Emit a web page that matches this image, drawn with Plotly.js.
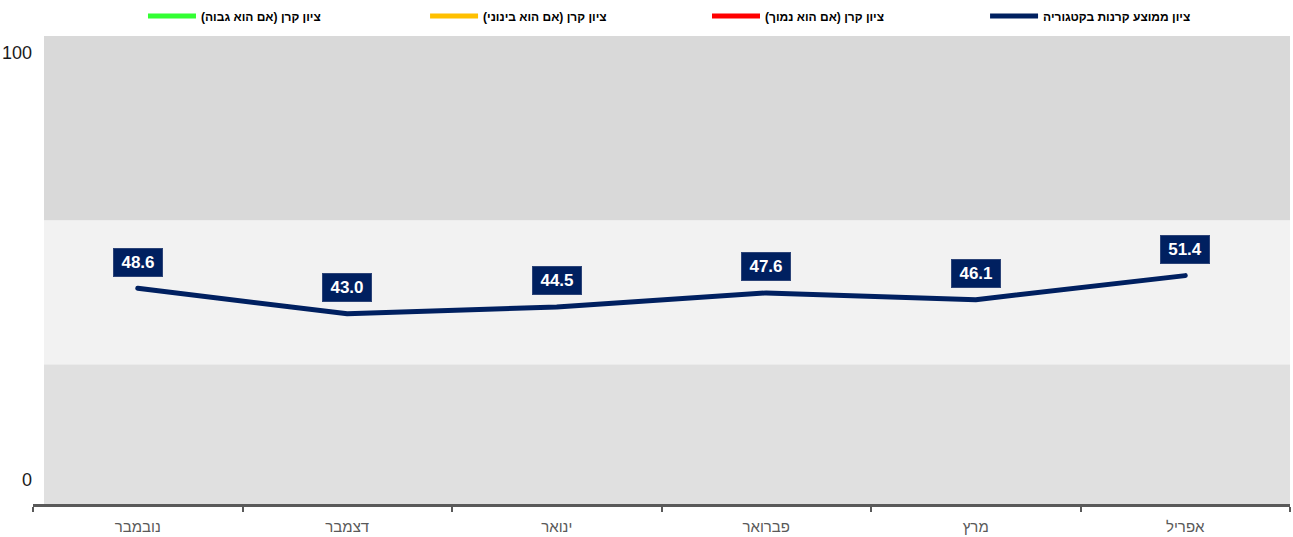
<!DOCTYPE html>
<html>
<head>
<meta charset="utf-8">
<script src="https://cdn.plot.ly/plotly-3.0.1.min.js"></script>
<style>
  html, body { margin: 0; padding: 0; background: #ffffff; }
  #chart { width: 1293px; height: 537px; }
  .scatterlayer .js-line { stroke-linecap: round; stroke-linejoin: round; }
</style>
</head>
<body>
<div id="chart"></div>
<script>
// ---- data ----
var months = ['נובמבר', 'דצמבר', 'ינואר', 'פברואר', 'מרץ', 'אפריל'];
var avgScores = [48.6, 43.0, 44.5, 47.6, 46.1, 51.4];
var fundHigh = [null, null, null, null, null, null];
var fundMid = [null, null, null, null, null, null];
var fundLow = [null, null, null, null, null, null];
var seriesNames = [
  'ציון קרן (אם הוא גבוה)\u200F',
  'ציון קרן (אם הוא בינוני)\u200F',
  'ציון קרן (אם הוא נמוך)\u200F',
  'ציון ממוצע קרנות בקטגוריה'
];
var bandLimits = [31.9, 63.6];
var yTickText = ['0', '100'];
var yTickVals = [6.4, 100.5];

// ---- styling ----
var FONT = '"Liberation Sans", Arial, sans-serif';
var yRange = [1.10, 104.18];
var colors = ['#33FF33', '#FFC000', '#FF0000', '#002060'];
var legendX = [0.0875, 0.3119, 0.5362, 0.7574];
var legendIds = ['legend', 'legend2', 'legend3', 'legend4'];
var seriesY = [fundHigh, fundMid, fundLow, avgScores];

var traces = seriesY.map(function (ys, i) {
  return {
    type: 'scatter',
    mode: 'lines',
    x: months,
    y: ys,
    name: '<b>' + seriesNames[i] + '</b>',
    legend: legendIds[i],
    line: { color: colors[i], width: 5 },
    hoverinfo: 'skip',
    showlegend: true
  };
});

var annotations = avgScores.map(function (v, i) {
  return {
    x: months[i],
    y: v,
    xref: 'x',
    yref: 'y',
    text: '<b>' + v.toFixed(1) + '</b>',
    showarrow: false,
    yshift: 26,
    bgcolor: '#002060',
    bordercolor: '#2d4478',
    borderwidth: 1,
    borderpad: 0,
    width: 48,
    height: 27,
    font: { family: FONT, size: 17, color: '#ffffff' }
  };
});

var bandColors = ['#E0E0E0', '#F2F2F2', '#D9D9D9'];
var bandEdges = [yRange[0], bandLimits[0], bandLimits[1], yRange[1]];
var shapes = bandColors.map(function (c, i) {
  return {
    type: 'rect', layer: 'below',
    xref: 'paper', yref: 'y',
    x0: 0.00875, x1: 1,
    y0: bandEdges[i], y1: bandEdges[i + 1],
    fillcolor: c, line: { width: 0 }
  };
});

var layout = {
  width: 1293,
  height: 537,
  margin: { l: 33, r: 3, t: 35, b: 33, pad: 0 },
  paper_bgcolor: '#ffffff',
  plot_bgcolor: '#ffffff',
  font: { family: FONT, color: '#000000' },
  xaxis: {
    type: 'category',
    range: [-0.5, 5.5],
    showline: true,
    linecolor: '#595959',
    linewidth: 2.5,
    ticks: 'outside',
    tickson: 'boundaries',
    ticklen: 5,
    tickwidth: 2,
    tickcolor: '#595959',
    ticklabelstandoff: 7,
    showgrid: false,
    zeroline: false,
    tickfont: { family: FONT, size: 15, color: '#595959' },
    fixedrange: true
  },
  yaxis: {
    range: yRange,
    showgrid: false,
    zeroline: false,
    showline: false,
    ticks: '',
    tickmode: 'array',
    tickvals: yTickVals,
    ticktext: yTickText,
    tickfont: { family: FONT, size: 18, color: '#1a1a1a' },
    fixedrange: true
  },
  shapes: shapes,
  annotations: annotations,
  hovermode: false
};

legendIds.forEach(function (id, i) {
  layout[id] = {
    orientation: 'h',
    x: legendX[i],
    xanchor: 'left',
    y: 1.0405,
    yanchor: 'middle',
    bgcolor: 'rgba(0,0,0,0)',
    borderwidth: 0,
    itemwidth: 48,
    font: { family: FONT, size: 12, color: '#000000' },
    itemclick: false,
    itemdoubleclick: false
  };
});

Plotly.newPlot('chart', traces, layout, { displayModeBar: false, staticPlot: true });
</script>
</body>
</html>
